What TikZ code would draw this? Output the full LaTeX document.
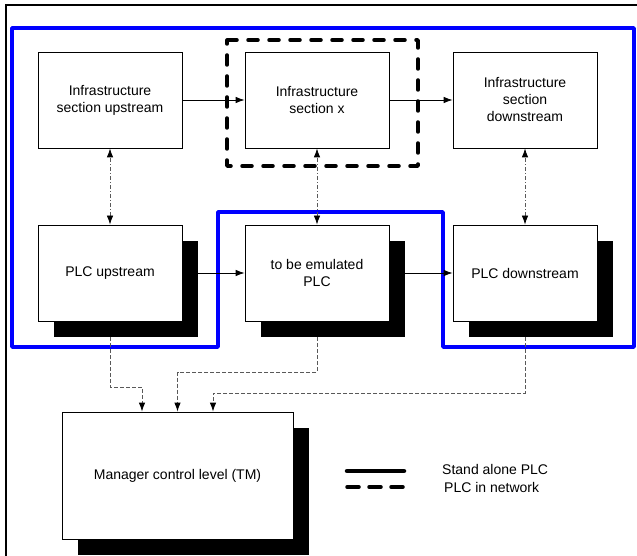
\documentclass[tikz,border=0pt]{standalone}
\usepackage{fontspec}
\setmainfont{Liberation Sans}
\usetikzlibrary{arrows.meta}
\begin{document}
\begin{tikzpicture}[x=1pt,y=-1pt,
  box/.style={draw=black,line width=0.8pt,fill=white,minimum width=144pt,minimum height=96pt,align=center,inner sep=0pt,font=\fontsize{14}{17}\selectfont},
  shadowbox/.style={fill=black,draw=none,minimum width=144pt,minimum height=96pt,inner sep=0pt},
  flow/.style={-{Latex[length=9pt,width=6.5pt]},line width=0.8pt},
  link/.style={{Latex[length=9pt,width=6.5pt,color=black]}-{Latex[length=9pt,width=6.5pt,color=black]},line width=0.8pt,draw=black!65,dash pattern=on 4pt off 2pt on 1pt off 2pt},
  report/.style={-{Latex[length=9pt,width=6.5pt,color=black]},line width=0.9pt,draw=black!65,dash pattern=on 4pt off 2pt},
  legendtext/.style={anchor=west,inner sep=0pt,font=\fontsize{14}{17}\selectfont},
  netline/.style={line width=3.5pt,line cap=round,dash pattern=on 12pt off 10pt},
  soloLine/.style={line width=4.5pt,line cap=round}
]
\useasboundingbox (0,0) rectangle (637,556);
% outer frame
\draw[line width=2pt] (5.5,556) -- (5.5,5.5) -- (637,5.5);
% blue stand-alone outline
\draw[line width=3.5pt,draw={rgb,255:red,0;green,0;blue,255},line join=round]
  (12,28) -- (634,28) -- (634,347) -- (443,347) -- (443,212) -- (218,212) -- (218,347) -- (12,347) -- cycle;
% black dashed network outline
\draw[line width=3.5pt,line cap=round,line join=round,dash pattern=on 10pt off 11pt]
  (227,40) -- (418,40) -- (418,166) -- (227,166) -- cycle;

% shadows
\node[shadowbox] (pu-s) at (126,289) {};
\node[shadowbox] (pe-s) at (333,289) {};
\node[shadowbox] (pd-s) at (541,289) {};
\node[shadowbox,minimum width=231pt,minimum height=127pt] (mg-s) at (193.5,491.5) {};

% boxes
\node[box] (iu) at (110,100) {Infrastructure\\section upstream};
\node[box] (ix) at (317,100) {Infrastructure\\section x};
\node[box] (id) at (525,100) {Infrastructure\\section\\downstream};
\node[box] (pu) at (110,273) {PLC upstream};
\node[box] (pe) at (317,273) {to be emulated\\PLC};
\node[box] (pd) at (525,273) {PLC downstream};
\node[box,minimum width=231pt,minimum height=127pt] (mg) at (177.5,475.5) {Manager control level (TM)};

% flows
\draw[flow] (iu.east) -- (ix.west);
\draw[flow] (ix.east) -- (id.west);
\draw[flow] (pu-s.east |- pu.east) -- (pe.west);
\draw[flow] (pe-s.east |- pe.east) -- (pd.west);

% links
\draw[link] (pu.north) -- (iu.south);
\draw[link] (pe.north) -- (ix.south);
\draw[link] (pd.north) -- (id.south);

% reports
\draw[report] (pu.center |- pu-s.south) -- ++(0,50) -| ([xshift=-35.5pt]mg.north);
\draw[report] (pe.center |- pe-s.south) -- ++(0,35) -| (mg.north);
\draw[report] (pd.center |- pd-s.south) -- ++(0,56) -| ([xshift=35.5pt]mg.north);

% legend
\draw[soloLine] (347,471) -- (404,471);
\draw[netline] (347,487) -- (404,487);
\node[legendtext] (lg1) at (442,469) {Stand alone PLC};
\node[legendtext] (lg2) at (444,487) {PLC in network};
\end{tikzpicture}
\end{document}
